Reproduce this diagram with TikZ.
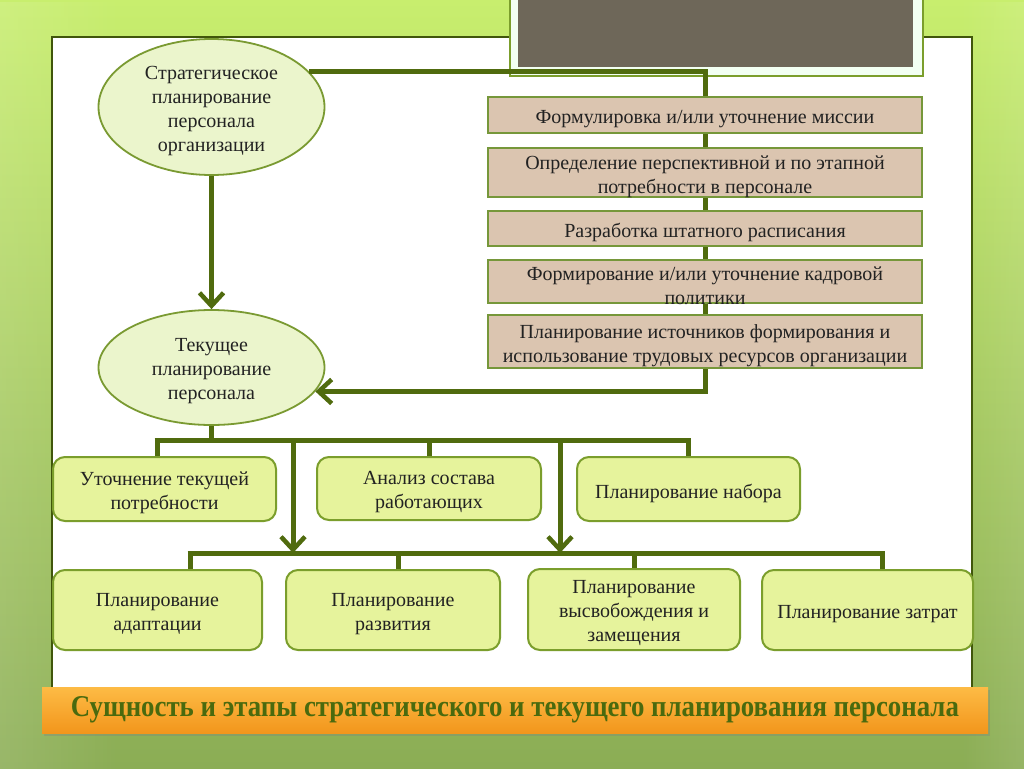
\documentclass[tikz,border=0pt]{standalone}
\usepackage{fontspec}
\setmainfont{Liberation Serif}
\usepackage{graphicx}
\usetikzlibrary{shapes.geometric,arrows.meta,shadows,fadings}
\definecolor{conn}{HTML}{506B0E}
\definecolor{ellfill}{HTML}{EBF5CC}
\definecolor{ellline}{HTML}{7A9A32}
\definecolor{tanfill}{HTML}{DBC5B0}
\definecolor{tanline}{HTML}{76973A}
\definecolor{grfill}{HTML}{E6F39C}
\definecolor{grline}{HTML}{7B9E2C}
\definecolor{bgtop}{HTML}{C8EE6E}
\definecolor{bgmid}{HTML}{A8CC62}
\definecolor{bgbot}{HTML}{8BAD55}
\definecolor{greyrect}{HTML}{6E6759}
\definecolor{orA}{HTML}{FDBB45}
\definecolor{orB}{HTML}{F2961C}
\definecolor{titletext}{HTML}{4A6A0E}
\definecolor{txt}{HTML}{222222}
\tikzset{
  conline/.style={draw=conn,line width=5pt},
  conarrow/.style={draw=conn,line width=5pt,-{Straight Barb[length=13pt,width=24pt,line width=4.5pt]}},
  intext/.style={align=center,text=txt,font=\fontsize{20}{24}\selectfont,inner sep=0pt,yshift=-4pt},
  txtin/.style={label={[intext]center:{#1}}},
  ellnode/.style={ellipse,draw=ellline,line width=1.8pt,fill=ellfill,inner sep=0pt,
     minimum width=226pt,minimum height=136pt},
  tanbox/.style={rectangle,draw=tanline,line width=2pt,fill=tanfill,inner sep=0pt,
     minimum width=434pt},
  grbox/.style={rectangle,rounded corners=12pt,draw=grline,line width=2pt,fill=grfill,inner sep=0pt},
}
\begin{document}
\begin{tikzpicture}[x=1pt,y=-1pt]
\useasboundingbox (0,0) rectangle (1024,768);
% background
\shade[top color=bgtop,bottom color=bgbot,middle color=bgmid] (0,0) rectangle (1024,768);
\fill[white,opacity=0.12,path fading=east] (0,0) rectangle (120,768);
\fill[white,opacity=0.10,path fading=west] (960,0) rectangle (1024,768);
% panel
\draw[fill=white,draw=conn!80!black,line width=1.5pt] (52,37) rectangle (972,692);
% grey top rectangle with frame
\draw[fill=white!95!green,draw=grline,line width=1.5pt] (510,-5) rectangle (923,76);
\fill[greyrect] (518,-5) rectangle (913,67);

% ellipses
\node[ellnode,txtin={Стратегическое\\планирование\\персонала\\организации}] (s1) at (211.5,107) {};
\node[ellnode,minimum height=115pt,txtin={Текущее\\планирование\\персонала}] (c2) at (211.5,367.5) {};

% tan boxes
\node[tanbox,minimum height=36pt,txtin={Формулировка и/или уточнение миссии}] (m1) at (705,115) {};
\node[tanbox,minimum height=49pt,txtin={Определение перспективной и по этапной\\потребности в персонале}] (m2) at (705,172.5) {};
\node[tanbox,minimum height=35pt,txtin={Разработка штатного расписания}] (m3) at (705,228.5) {};
\node[tanbox,minimum height=43pt,txtin={Формирование и/или уточнение кадровой\\политики}] (m4) at (705,281.5) {};
\node[tanbox,minimum height=53pt,txtin={Планирование источников формирования и\\использование трудовых ресурсов организации}] (m5) at (705,341.5) {};

% row 1 boxes
\node[grbox,minimum width=223pt,minimum height=64pt,txtin={Уточнение текущей\\потребности}] (a) at (164.5,489) {};
\node[grbox,minimum width=224pt,minimum height=63pt,txtin={Анализ состава\\работающих}] (b) at (429,488.5) {};
\node[grbox,minimum width=223pt,minimum height=64pt,txtin={Планирование набора}] (c) at (688.5,489) {};
% row 2 boxes
\node[grbox,minimum width=209pt,minimum height=80pt,txtin={Планирование\\адаптации}] (d) at (157.5,610) {};
\node[grbox,minimum width=214pt,minimum height=80pt,txtin={Планирование\\развития}] (e) at (393,610) {};
\node[grbox,minimum width=212pt,minimum height=81pt,txtin={Планирование\\высвобождения и\\замещения}] (f) at (634,609.5) {};
\node[grbox,minimum width=211pt,minimum height=80pt,txtin={Планирование затрат}] (g) at (867.5,610) {};

% strategic connectors
\draw[conline] (s1.20) -| (m1.north);
\draw[conline] (m1.south) -- (m2.north);
\draw[conline] (m2.south) -- (m3.north);
\draw[conline] (m3.south) -- (m4.north);
\draw[conline] (m4.south) -- (m5.north);
\draw[conarrow] (m5.south) |- (c2.-13);
\draw[conarrow] (s1.south) -- (c2.north);

% tree 1
\coordinate (h1L) at (157,440);
\coordinate (h1R) at (688,440);
\coordinate (h1A) at (293,440);
\coordinate (h1B) at (560,440);
\draw[conline] (c2.south) -- (c2.south |- h1L);
\draw[conline] ([xshift=-2.5pt]h1L) -- ([xshift=2.5pt]h1R);
\draw[conline] (h1L) -- (h1L |- a.north);
\draw[conline] (b.north |- h1L) -- (b.north);
\draw[conline] (h1R) -- (h1R |- c.north);
% tree 2
\coordinate (h2L) at (190,553);
\coordinate (h2R) at (882,553);
\coordinate (h2E) at (398,553);
\draw[conarrow] (h1A) -- (h1A |- h2L);
\draw[conarrow] (h1B) -- (h1B |- h2L);
\draw[conline] ([xshift=-2.5pt]h2L) -- ([xshift=2.5pt]h2R);
\draw[conline] (h2L) -- (h2L |- d.north);
\draw[conline] (h2E) -- (h2E |- e.north);
\draw[conline] (f.north |- h2L) -- (f.north);
\draw[conline] (h2R) -- (h2R |- g.north);

% title bar
\node[rectangle,minimum width=946pt,minimum height=46pt,inner sep=0pt,
  top color=orA,bottom color=orB,
  drop shadow={shadow xshift=1.5pt,shadow yshift=-3pt,opacity=0.35}] (t) at (515,710)
  {\textcolor{titletext}{\resizebox{888pt}{20pt}{\bfseries Сущность и этапы стратегического и текущего планирования персонала}}};
\end{tikzpicture}
\end{document}
